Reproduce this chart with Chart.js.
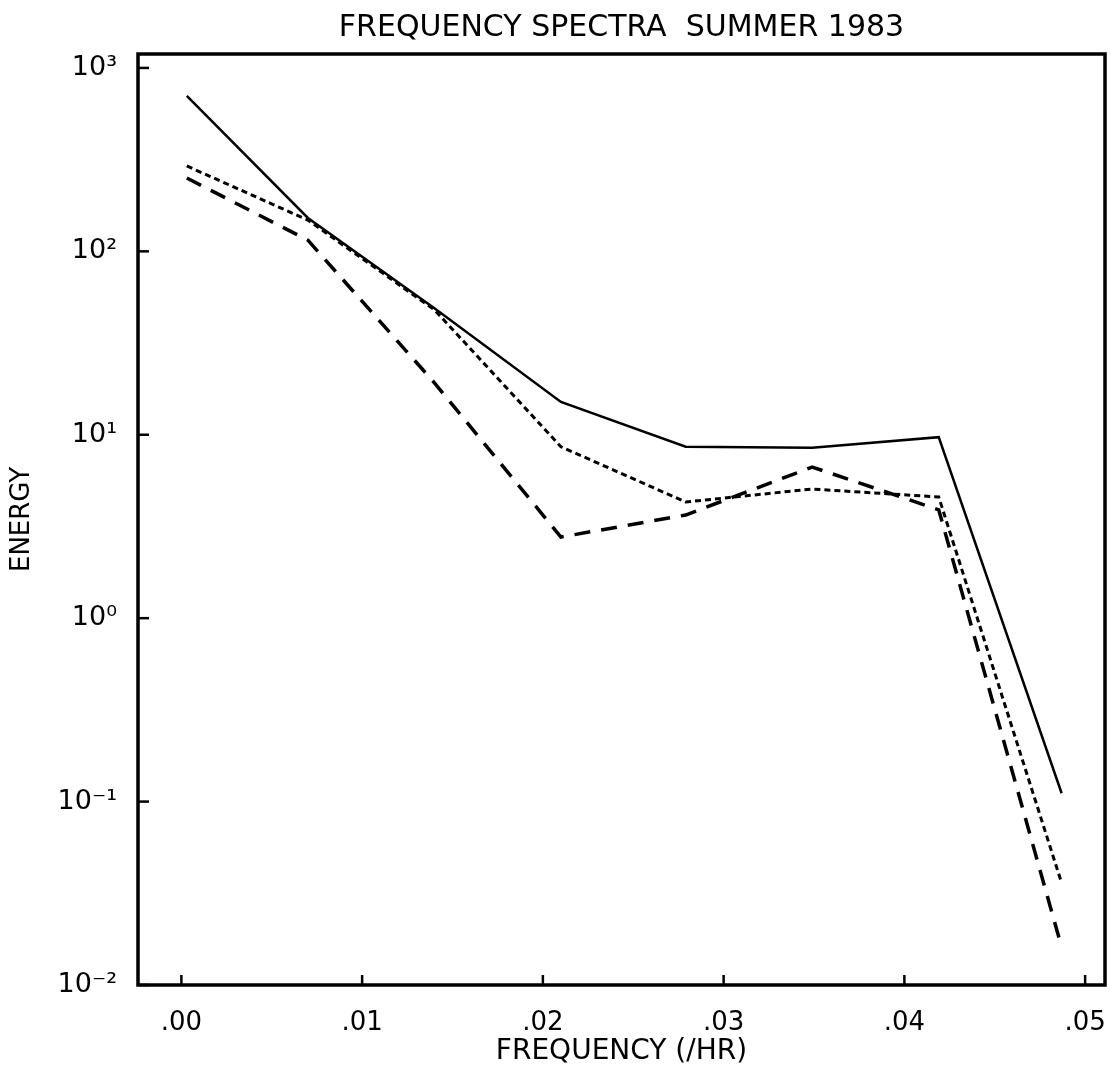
<!DOCTYPE html>
<html>
<head>
<meta charset="utf-8">
<script src="https://cdn.jsdelivr.net/npm/chart.js@4"></script>
<style>
  body { margin: 0; background: #fff; }
  #wrap { width: 1111px; height: 1073px; }
</style>
</head>
<body>
<div id="wrap"><canvas id="spectra" width="1111" height="1073"></canvas></div>
<script>
// frequency (/hr) of each spectral estimate
const freq = [0.0003, 0.0070, 0.0140, 0.0210, 0.0279, 0.0349, 0.0419, 0.0487];
// energy for the three curves
const energySolid  = [703, 152, 49, 15.1, 8.6, 8.5, 9.7, 0.111];
const energyDotted = [292, 148, 48, 8.6, 4.3, 5.06, 4.58, 0.036];
const energyDashed = [251, 115, 19.2, 2.77, 3.65, 6.67, 3.9, 0.0161];

const xTicks = [0, 0.01, 0.02, 0.03, 0.04, 0.05];
const xTickLabels = ['.00', '.01', '.02', '.03', '.04', '.05'];
const yTicks = [0.01, 0.1, 1, 10, 100, 1000];
const yTickLabels = ['10⁻²', '10⁻¹', '10⁰', '10¹', '10²', '10³'];
const chartTitle = 'FREQUENCY SPECTRA  SUMMER 1983';

const pts = ys => freq.map((f, i) => ({x: f, y: ys[i]}));
const FONT = '"DejaVu Sans", sans-serif';

// box round the plot, inward tick marks, title centred over the plot box
const frame = {
  id: 'frame',
  afterDraw(chart) {
    const {ctx, chartArea: a, scales} = chart;
    ctx.save();
    ctx.strokeStyle = '#000';
    ctx.lineWidth = 2.5;
    xTicks.forEach(v => {
      const px = scales.x.getPixelForValue(v);
      ctx.beginPath(); ctx.moveTo(px, a.bottom); ctx.lineTo(px, a.bottom - 10); ctx.stroke();
    });
    yTicks.forEach(v => {
      const py = scales.y.getPixelForValue(v);
      ctx.beginPath(); ctx.moveTo(a.left, py); ctx.lineTo(a.left + 11, py); ctx.stroke();
    });
    ctx.lineWidth = 3.5;
    ctx.strokeRect(a.left, a.top, a.right - a.left, a.bottom - a.top);

    ctx.fillStyle = '#000';
    ctx.font = '30px ' + FONT;
    ctx.textAlign = 'center';
    ctx.textBaseline = 'middle';
    ctx.fillText(chartTitle, (a.left + a.right) / 2, 28);
    ctx.restore();
  }
};

new Chart(document.getElementById('spectra'), {
  type: 'line',
  data: {
    datasets: [
      {data: pts(energySolid), borderColor: '#000', borderWidth: 2.5},
      {data: pts(energyDotted), borderColor: '#000', borderWidth: 3, borderDash: [6, 4]},
      {data: pts(energyDashed), borderColor: '#000', borderWidth: 3.5, borderDash: [16, 11]}
    ]
  },
  options: {
    responsive: false,
    animation: false,
    layout: {padding: {top: 54, right: 6}},
    elements: {point: {radius: 0}, line: {tension: 0}},
    plugins: {
      legend: {display: false},
      tooltip: {enabled: false},
      title: {display: false}
    },
    scales: {
      x: {
        type: 'linear',
        min: -0.0024,
        max: 0.0511,
        grid: {display: false},
        border: {display: false},
        afterBuildTicks: s => { s.ticks = xTicks.map(v => ({value: v})); },
        afterFit: s => { s.height = 88; s.paddingLeft = 0; s.paddingRight = 0; },
        ticks: {
          color: '#000',
          padding: 15,
          font: {family: FONT, size: 26},
          callback: (v) => xTickLabels[xTicks.indexOf(v)]
        },
        title: {
          display: true,
          text: 'FREQUENCY (/HR)',
          color: '#000',
          font: {family: FONT, size: 28},
          padding: {top: 0, bottom: 4}
        }
      },
      y: {
        type: 'logarithmic',
        min: 0.01,
        max: 1191,
        grid: {display: false},
        border: {display: false},
        afterBuildTicks: s => { s.ticks = yTicks.map(v => ({value: v})); },
        afterFit: s => { s.width = 138; s.paddingTop = 0; s.paddingBottom = 0; },
        ticks: {
          color: '#000',
          padding: 13,
          font: {family: FONT, size: 27},
          callback: (v) => yTickLabels[yTicks.indexOf(v)]
        },
        title: {
          display: true,
          text: 'ENERGY',
          color: '#000',
          font: {family: FONT, size: 26},
          padding: {top: 7, bottom: 0}
        }
      }
    }
  },
  plugins: [frame]
});
</script>
</body>
</html>
